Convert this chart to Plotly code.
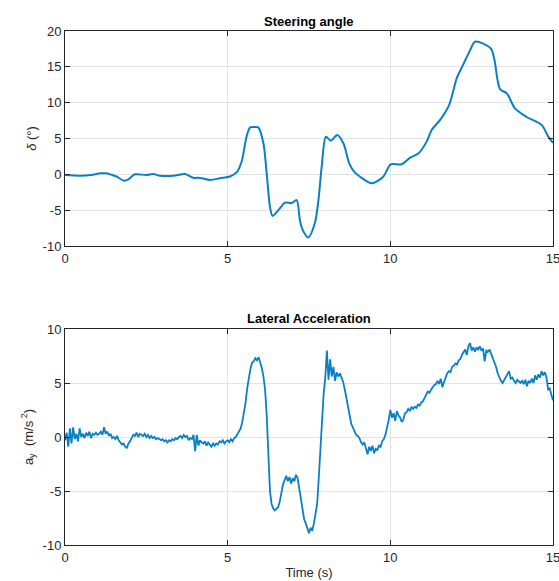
import numpy as np
import plotly.graph_objects as go

# ---- Steering angle (deg) ----
steer_t = [0, 0.46, 0.8, 1.08, 1.28, 1.45, 1.59, 1.81, 1.95, 2.15, 2.5, 2.71, 2.92, 3.33, 3.69,
           3.94, 4.15, 4.46, 4.76, 5.07, 5.28, 5.43, 5.58, 5.69, 5.82, 5.94, 6.10, 6.20, 6.30,
           6.38, 6.56, 6.76, 6.97, 7.12, 7.22, 7.31, 7.48, 7.68, 7.79, 7.89, 8.02, 8.17, 8.37,
           8.56, 8.74, 8.9, 9.07, 9.43, 9.78, 10.01, 10.35, 10.6, 10.86, 11.12, 11.27, 11.53,
           11.81, 12.04, 12.24, 12.45, 12.6, 12.96, 13.1, 13.2, 13.37, 13.58, 13.83, 14.19,
           14.65, 14.85, 15.0]
steer_v = [-0.1, -0.19, -0.1, 0.14, 0.14, -0.1, -0.33, -0.88, -0.7, 0.0, -0.1, 0.05, -0.2, -0.2,
           0.05, -0.47, -0.5, -0.79, -0.55, -0.3, 0.3, 1.8, 5.25, 6.55, 6.6, 6.55, 4.3, 0.1, -4.5,
           -5.8, -5.0, -3.95, -4.0, -3.6, -6.4, -7.8, -8.8, -6.8, -3.6, 1.07, 5.25, 4.7, 5.5,
           4.3, 1.5, 0.3, -0.33, -1.25, -0.33, 1.4, 1.4, 2.3, 2.9, 4.6, 6.2, 7.6,
           9.7, 13.4, 15.3, 17.3, 18.5, 18.0, 17.5, 16.0, 11.9, 11.3, 9.2, 8.0,
           6.9, 5.3, 4.4]

# ---- Lateral acceleration (m/s^2), sampled every 0.05 s ----
acc_v = [
    # 0 s
    -0.3, 0.4, -0.9, 0.8, -0.6, 0.9, -0.2, 0.3, -0.4, 0.8, 0.0, 0.3, -0.1, 0.4, 0.1, 0.5, -0.1, 0.3, 0.2, 0.4,
    # 1 s
    0.2, 0.3, 0.5, 0.2, 0.9, 0.3, 0.5, 0.1, 0.3, -0.1, 0.0, -0.2, 0.1, -0.3, -0.5, -0.7, -0.6, -0.9, -1.0, -0.6,
    # 2 s
    -0.4, -0.1, 0.2, 0.1, 0.4, 0.0, 0.3, 0.2, 0.1, 0.3, 0.0, 0.2, -0.1, 0.1, -0.1, 0.0, -0.2, -0.1, -0.2, -0.3,
    # 3 s
    -0.2, -0.4, -0.3, -0.5, -0.3, -0.4, -0.2, -0.3, -0.1, -0.2, 0.0, 0.1, -0.1, 0.2, 0.0, 0.1, -0.3, -0.1, -0.2, 0.2,
    # 4 s
    -1.3, 0.2, -0.8, -0.3, -0.5, -0.6, -0.4, -0.8, -0.5, -0.7, -0.9, -0.6, -0.8, -0.6, -0.7, -0.4, -0.5, -0.3, -0.6, -0.4,
    # 5 s
    -0.3, -0.5, -0.2, -0.4, -0.1, 0.0, 0.3, 0.5, 0.8, 1.4, 2.2, 3.2, 4.5, 5.6, 6.3, 6.9, 7.0, 7.3, 7.1, 7.4,
    # 6 s
    6.9, 6.4, 5.6, 4.4, 2.0, -1.5, -5.0, -6.2, -6.6, -6.8, -6.6, -6.5, -6.0, -5.2, -4.4, -4.0, -3.6, -4.1, -3.7, -4.3,
    # 7 s
    -3.8, -4.1, -3.5, -3.8, -4.8, -6.0, -7.0, -7.6, -8.0, -8.5, -8.9, -8.4, -8.7, -8.0, -7.2, -6.2, -3.8, -1.0, 1.8, 4.0,
    # 8 s
    5.5, 8.0, 5.3, 7.2, 5.6, 6.5, 5.2, 6.0, 5.6, 5.9, 5.5, 5.1, 4.4, 3.6, 2.8, 2.0, 1.2, 0.9, 0.6, 0.2,
    # 9 s
    0.1, -0.1, -0.5, -0.7, -0.5, -1.0, -1.6, -0.9, -1.3, -0.8, -1.5, -1.1, -1.2, -0.8, -0.9, -0.4, -0.2, 0.2, 0.8, 1.6,
    # 10 s
    2.5, 1.8, 2.2, 1.5, 2.4, 2.0, 1.8, 1.4, 1.6, 2.2, 2.3, 2.6, 2.4, 2.8, 2.6, 2.8, 2.7, 3.0, 2.9, 3.2,
    # 11 s
    3.3, 3.6, 3.9, 4.2, 4.1, 4.4, 4.6, 4.8, 4.9, 5.2, 4.9, 5.4, 4.6, 5.1, 5.6, 5.9, 6.1, 6.0, 6.5, 6.6,
    # 12 s
    6.8, 6.7, 7.1, 7.2, 7.6, 7.9, 8.1, 7.6, 8.4, 8.7, 8.0, 8.3, 7.9, 8.3, 8.1, 8.4, 8.0, 8.2, 7.0, 8.0,
    # 13 s
    7.9, 8.1, 7.6, 7.3, 6.9, 6.5, 5.9, 5.5, 5.2, 5.0, 5.3, 5.5, 5.9, 6.1, 5.4, 5.5, 5.2, 5.0, 5.3, 5.1,
    # 14 s
    5.0, 5.2, 4.9, 5.3, 4.7, 5.2, 5.0, 5.4, 5.0, 5.7, 5.3, 5.8, 5.5, 6.1, 5.7, 6.0, 5.5, 4.4, 4.5, 3.9,
    # 15 s
    3.4,
]
acc_t = np.linspace(0, 15, len(acc_v))

x_ticks = [0, 5, 10, 15]
steer_ticks = [-10, -5, 0, 5, 10, 15, 20]
acc_ticks = [-10, -5, 0, 5, 10]

LINE = "#0a80c4"
AX = "#262626"
GRID = "#e3e3e3"
FONT = "Liberation Sans, Arial, Helvetica, sans-serif"
W, H = 559, 581

fig = go.Figure()
fig.add_trace(go.Scatter(x=steer_t, y=steer_v, mode="lines",
                         line=dict(color=LINE, width=2, shape="spline", smoothing=0.8),
                         xaxis="x", yaxis="y", showlegend=False))
fig.add_trace(go.Scatter(x=acc_t, y=acc_v, mode="lines", line=dict(color=LINE, width=1.8),
                         xaxis="x2", yaxis="y2", showlegend=False))

xd = [65 / W, 553 / W]
y1d = [1 - 246 / H, 1 - 31 / H]
y2d = [1 - 545 / H, 1 - 329 / H]

common = dict(showline=True, linecolor=AX, linewidth=1, mirror="ticks", ticks="inside", ticklen=5,
              tickcolor=AX, showgrid=True, gridcolor=GRID, gridwidth=1, zeroline=False,
              automargin=False, ticklabeloverflow="allow",
              tickfont=dict(family=FONT, size=13, color=AX))


def labels(vals):
    return [str(v) for v in vals]


fig.update_layout(
    width=W, height=H, margin=dict(l=0, r=0, t=0, b=0),
    plot_bgcolor="white", paper_bgcolor="white",
    font=dict(family=FONT, color=AX),
    xaxis=dict(domain=xd, range=[0, 15], tickvals=x_ticks, ticktext=labels(x_ticks), anchor="y", **common),
    yaxis=dict(domain=y1d, range=[-10, 20], tickvals=steer_ticks, ticktext=labels(steer_ticks), anchor="x",
               title=dict(text="<i>δ</i> (°)", font=dict(family=FONT, size=13, color=AX), standoff=3), **common),
    xaxis2=dict(domain=xd, range=[0, 15], tickvals=x_ticks, ticktext=labels(x_ticks), anchor="y2",
                title=dict(text="Time (s)", font=dict(family=FONT, size=13, color=AX), standoff=4), **common),
    yaxis2=dict(domain=y2d, range=[-10, 10], tickvals=acc_ticks, ticktext=labels(acc_ticks), anchor="x2",
                title=dict(text="a<sub>y</sub>  (m/s<sup> 2</sup>)", font=dict(family=FONT, size=13, color=AX),
                           standoff=6), **common),
    annotations=[
        dict(text="<b>Steering angle</b>", x=(xd[0] + xd[1]) / 2, y=1 - 21 / H, xref="paper", yref="paper",
             xanchor="center", yanchor="middle", showarrow=False, font=dict(family=FONT, size=13, color="black")),
        dict(text="<b>Lateral Acceleration</b>", x=(xd[0] + xd[1]) / 2, y=1 - 318 / H, xref="paper", yref="paper",
             xanchor="center", yanchor="middle", showarrow=False, font=dict(family=FONT, size=13, color="black")),
    ],
)

fig.write_html("out.html")
